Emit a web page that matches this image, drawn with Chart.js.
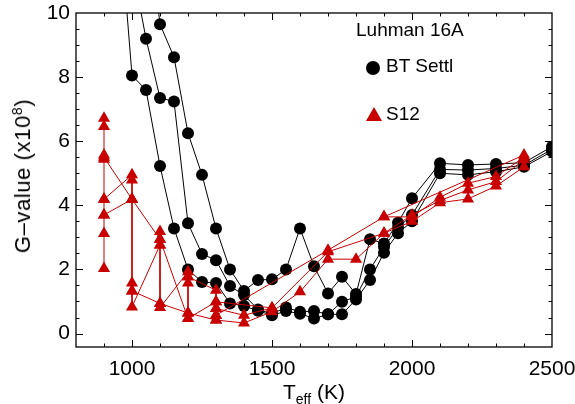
<!DOCTYPE html>
<html>
<head>
<meta charset="utf-8">
<script src="https://cdn.jsdelivr.net/npm/chart.js@4.4.0/dist/chart.umd.min.js"></script>
<style>
  body { margin: 0; background: #fff; }
  #wrap { position: relative; width: 575px; height: 404px; font-family: "Liberation Sans", Arial, sans-serif; color: #000; }
  canvas { position: absolute; left: 0; top: 0; }
  .lbl { position: absolute; white-space: nowrap; line-height: 1; }
  .dot { position: absolute; width: 14px; height: 14px; border-radius: 50%; background: #000; }
  .tri { position: absolute; width: 0; height: 0; border-left: 8px solid transparent; border-right: 8px solid transparent; border-bottom: 14px solid #c80000; }
  sub { font-size: 14px; vertical-align: -5px; }
  sup { font-size: 14px; vertical-align: 8px; }
</style>
</head>
<body>
<div id="wrap">
  <canvas id="chart" width="575" height="404"></canvas>
  <div class="lbl" style="left:356px; top:20px; font-size:19px;">Luhman 16A</div>
  <div class="dot" style="left:366px; top:61px;"></div>
  <div class="lbl" style="left:386px; top:56px; font-size:19px;">BT Settl</div>
  <div class="tri" style="left:366px; top:107px;"></div>
  <div class="lbl" style="left:386px; top:104px; font-size:19px;">S12</div>
  <div class="lbl" style="left:283px; top:381px; font-size:21px;">T<sub>eff</sub> (K)</div>
  <div class="lbl" style="left:22px; top:176px; font-size:22px; letter-spacing:0.6px; transform: translate(-50%, -50%) rotate(-90deg);">G&ndash;value (x10<sup>8</sup>)</div>
</div>
<script>
// tick labels
const xTicks = [1000, 1500, 2000, 2500];
const yTicks = [0, 2, 4, 6, 8, 10];

// BT Settl model tracks [Teff, G]
const btA = [[950, 13.5], [1000, 8.05], [1050, 7.6], [1100, 5.23], [1150, 3.28], [1200, 2.0], [1250, 1.61], [1300, 1.58],
  [1350, 0.94], [1400, 0.86], [1450, 0.71], [1500, 0.57], [1550, 0.7], [1600, 0.62], [1650, 0.47], [1700, 0.6],
  [1750, 0.6], [1800, 1.06], [1850, 1.67], [1900, 2.52], [1950, 3.13], [2000, 3.5], [2100, 5.0], [2200, 4.95],
  [2300, 5.05], [2400, 5.2], [2500, 5.68]];
const btB = [[1000, 11.5], [1050, 9.2], [1100, 7.35], [1150, 7.24], [1200, 3.44], [1250, 2.48], [1300, 2.29], [1350, 1.48],
  [1400, 1.2], [1450, 0.75], [1500, 0.62], [1550, 0.81], [1600, 0.68], [1650, 0.7], [1700, 0.6], [1750, 0.99],
  [1800, 1.15], [1850, 2.0], [1900, 2.7], [1950, 3.3], [2000, 3.7], [2100, 5.12], [2200, 5.1], [2300, 5.15],
  [2400, 5.25], [2500, 5.75]];
const btC = [[1050, 13.5], [1100, 9.65], [1150, 8.62], [1200, 6.25], [1250, 4.95], [1300, 3.28], [1350, 2.0], [1400, 1.33],
  [1450, 1.67], [1500, 1.69], [1550, 2.0], [1600, 3.28], [1650, 2.1], [1700, 1.25], [1750, 1.77], [1800, 1.23],
  [1850, 2.94], [1900, 2.81], [1950, 3.46], [2000, 4.22], [2100, 5.31], [2200, 5.26], [2300, 5.29], [2400, 5.33],
  [2500, 5.83]];

// S12 model tracks [Teff, G]
const s12a = [[900, 2.03], [900, 3.12], [900, 3.7], [900, 4.19], [900, 5.44], [900, 5.57], [900, 6.46], [900, 6.72]];
const s12b = [[900, 4.19], [1000, 4.95], [1000, 4.79], [1000, 4.19], [1000, 1.58], [1000, 1.33], [1000, 0.83], [1100, 2.76]];
const s12c = [[900, 3.7], [1000, 4.19]];
const s12d = [[900, 5.5], [1000, 4.19], [1100, 2.94], [1200, 0.47], [1300, 0.99], [1500, 0.8], [1700, 2.55], [1900, 3.13],
  [2000, 3.7], [2100, 4.15], [2200, 4.48], [2300, 4.74], [2400, 5.42]];
const s12e = [[1100, 3.18], [1100, 2.94], [1100, 2.76], [1100, 0.94], [1100, 0.81], [1200, 1.93], [1200, 1.77], [1200, 1.58],
  [1200, 0.64], [1200, 0.47]];
const s12f = [[1000, 1.33], [1100, 0.94], [1200, 0.64], [1300, 0.42], [1400, 0.33], [1500, 0.68], [1600, 1.3], [1700, 2.32],
  [1800, 2.32], [1900, 3.13], [2000, 3.5], [2100, 4.08], [2200, 4.2], [2300, 4.6], [2400, 5.2]];
const s12g = [[1200, 1.77], [1300, 1.35], [1300, 0.99], [1300, 0.78], [1300, 0.57], [1300, 0.42]];
const s12h = [[1300, 0.57], [1700, 2.6], [1900, 3.64], [2400, 5.57]];
const s12i = [[1300, 0.78], [1400, 0.57], [1500, 0.8]];
const s12j = [[1900, 3.64], [2000, 3.64], [2100, 4.25], [2200, 4.69], [2300, 4.9], [2400, 5.5]];

const red = '#c80000';
const font = '"Liberation Sans", Arial, sans-serif';

function track(pts, color, style, radius, order) {
    return {
        data: pts.map(p => ({ x: p[0], y: p[1] })),
        showLine: true,
        borderColor: color,
        borderWidth: 1,
        pointStyle: style,
        pointRadius: radius,
        pointBackgroundColor: color,
        pointBorderColor: color,
        pointBorderWidth: 0,
        order: order,
        clip: 0
    };
}

const datasets = [];
[btA, btB, btC].forEach(t => datasets.push(track(t, '#000', 'circle', 6, 2)));
[s12a, s12b, s12c, s12d, s12e, s12f, s12g, s12h, s12i, s12j].forEach(t => datasets.push(track(t, red, 'triangle', 7, 1)));

// inward ticks on all four sides plus the box
const frame = {
    id: 'frame',
    afterDraw(chart) {
        const c = chart.ctx, a = chart.chartArea;
        const xs = chart.scales.x, ys = chart.scales.y;
        c.save();
        c.strokeStyle = '#000';
        c.lineWidth = 1.3;
        c.strokeRect(a.left, a.top, a.right - a.left, a.bottom - a.top);
        c.lineWidth = 1;
        c.beginPath();
        for (let v = 900; v < 2500; v += 100) {
            const px = Math.round(xs.getPixelForValue(v)) + 0.5;
            const len = xTicks.includes(v) ? 7 : 3.5;
            c.moveTo(px, a.bottom); c.lineTo(px, a.bottom - len);
            c.moveTo(px, a.top); c.lineTo(px, a.top + len);
        }
        for (let v = 0; v < 10; v += 0.5) {
            const py = Math.round(ys.getPixelForValue(v)) + 0.5;
            const len = yTicks.includes(v) ? 7 : 3.5;
            c.moveTo(a.left, py); c.lineTo(a.left + len, py);
            c.moveTo(a.right, py); c.lineTo(a.right - len, py);
        }
        c.stroke();
        c.restore();
    }
};

new Chart(document.getElementById('chart'), {
    type: 'scatter',
    data: { datasets: datasets },
    options: {
        responsive: false,
        animation: false,
        layout: { padding: { left: 0, right: 23, top: 13, bottom: 0 } },
        plugins: { legend: { display: false }, tooltip: { enabled: false } },
        scales: {
            x: {
                type: 'linear', min: 800, max: 2500,
                afterBuildTicks: s => { s.ticks = xTicks.map(v => ({ value: v })); },
                afterFit: s => { s.height = 57; s.paddingLeft = 0; s.paddingRight = 0; },
                grid: { display: false, drawTicks: false },
                border: { display: false },
                ticks: { color: '#000', font: { size: 21, family: font }, padding: 10, maxRotation: 0, autoSkip: false,
                    callback: v => String(v) }
            },
            y: {
                type: 'linear', min: -0.42, max: 10,
                afterBuildTicks: s => { s.ticks = yTicks.map(v => ({ value: v })); },
                afterFit: s => { s.width = 76; s.paddingTop = 0; s.paddingBottom = 0; },
                grid: { display: false, drawTicks: false },
                border: { display: false },
                ticks: { color: '#000', font: { size: 21, family: font }, padding: 6 }
            }
        }
    },
    plugins: [frame]
});
</script>
</body>
</html>
